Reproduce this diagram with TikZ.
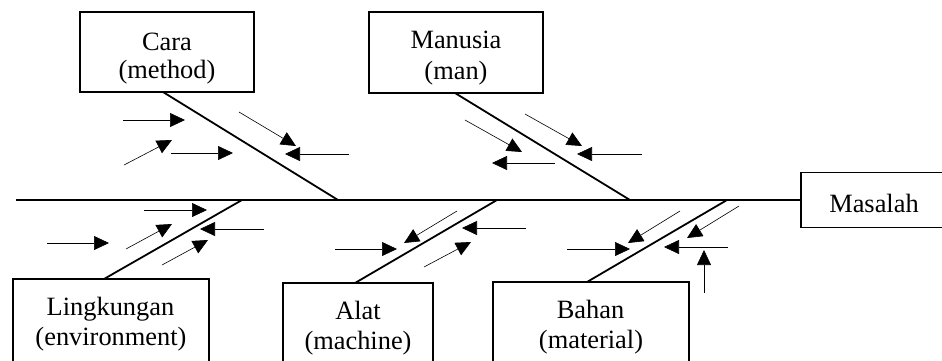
\documentclass[tikz,border=0pt]{standalone}
\usepackage{fontspec}
\setmainfont{Liberation Serif}
\usetikzlibrary{arrows.meta}
\begin{document}
\begin{tikzpicture}[x=1pt,y=-1pt,
  box/.style={draw, line width=1.2pt, inner sep=0pt},
  lbl/.style={font=\fontsize{26.4}{30}\selectfont, inner sep=0pt, anchor=base},
  spine/.style={line width=1.6pt},
  bone/.style={line width=1.8pt},
  cause/.style={line width=0.6pt, -{Triangle[length=15pt,width=14pt]}}]
\useasboundingbox (0,0) rectangle (942,360);
\clip (0,0) rectangle (942,360);

% category boxes
\node[box, minimum width=174pt, minimum height=80pt] (caraBox) at (167,52) {};
\node[box, minimum width=174pt, minimum height=81pt] (manBox) at (456,52.5) {};
\node[box, minimum width=196pt, minimum height=101pt] (lingBox) at (111,329.5) {};
\node[box, minimum width=150pt, minimum height=97pt] (alatBox) at (358,331.5) {};
\node[box, minimum width=196pt, minimum height=98pt] (bahanBox) at (591,331) {};
\node[box, minimum width=159pt, minimum height=55pt] (masBox) at (880.5,200) {};

% labels
\node[lbl] (cara) at (167,50) {Cara};
\node[lbl] (caraEn) at (167,78.5) {(method)};
\node[lbl] (man) at (456,48.5) {Manusia};
\node[lbl] (manEn) at (456,79) {(man)};
\node[lbl] (ling) at (110.5,315) {Lingkungan};
\node[lbl] (lingEn) at (111,345) {(environment)};
\node[lbl] (alat) at (358,319.5) {Alat};
\node[lbl] (alatEn) at (358,349.5) {(machine)};
\node[lbl] (bahan) at (590.5,318) {Bahan};
\node[lbl] (bahanEn) at (591,348.5) {(material)};
\node[lbl] (mas) at (874,212) {Masalah};

% spine
\coordinate (tail) at (16,200);
\coordinate (jBahan) at (727,200);
\draw[spine] (tail) -- (jBahan);
\draw[line width=1.1pt] (jBahan) -- (masBox.west);

% main bones
\coordinate (fCara) at (163,92);   \coordinate (jCara) at (338,200);
\coordinate (fMan) at (455,93);    \coordinate (jMan) at (630,200);
\coordinate (fLing) at (104,279);  \coordinate (jLing) at (242,200);
\coordinate (fAlat) at (355,283);  \coordinate (jAlat) at (497,200);
\coordinate (fBahan) at (587,282);
\draw[bone] (fCara) -- (jCara);
\draw[bone] (fMan) -- (jMan);
\draw[bone] (fLing) -- (jLing);
\draw[bone] (fAlat) -- (jAlat);
\draw[bone] (fBahan) -- (jBahan);

% sub-causes: Cara
\draw[cause] (123,120) -- (185,120);
\draw[cause] (124,165) -- (172,140);
\draw[cause] (171,153) -- (233,153);
\draw[cause] (239,112) -- (296,146);
\draw[cause] (349,154) -- (285,154);

% sub-causes: Manusia
\draw[cause] (465,120) -- (522,152);
\draw[cause] (555,163) -- (492,163);
\draw[cause] (525,114) -- (582,146);
\draw[cause] (642,154) -- (577,154);

% sub-causes: Lingkungan
\draw[cause] (144,210) -- (207,210);
\draw[cause] (126,249) -- (172,224);
\draw[cause] (264,229) -- (200,229);
\draw[cause] (162,265) -- (208,240);
\draw[cause] (47,243) -- (109,243);

% sub-causes: Alat
\draw[cause] (457,211) -- (404,243);
\draw[cause] (526,228) -- (462,228);
\draw[cause] (335,249) -- (397,249);
\draw[cause] (424,267) -- (471,242);

% sub-causes: Bahan
\draw[cause] (680,211) -- (628,243);
\draw[cause] (739,206) -- (687,238);
\draw[cause] (567,249) -- (630,249);
\draw[cause] (728,247) -- (664,247);
\draw[cause] (704,293) -- (704,250);
\end{tikzpicture}
\end{document}
